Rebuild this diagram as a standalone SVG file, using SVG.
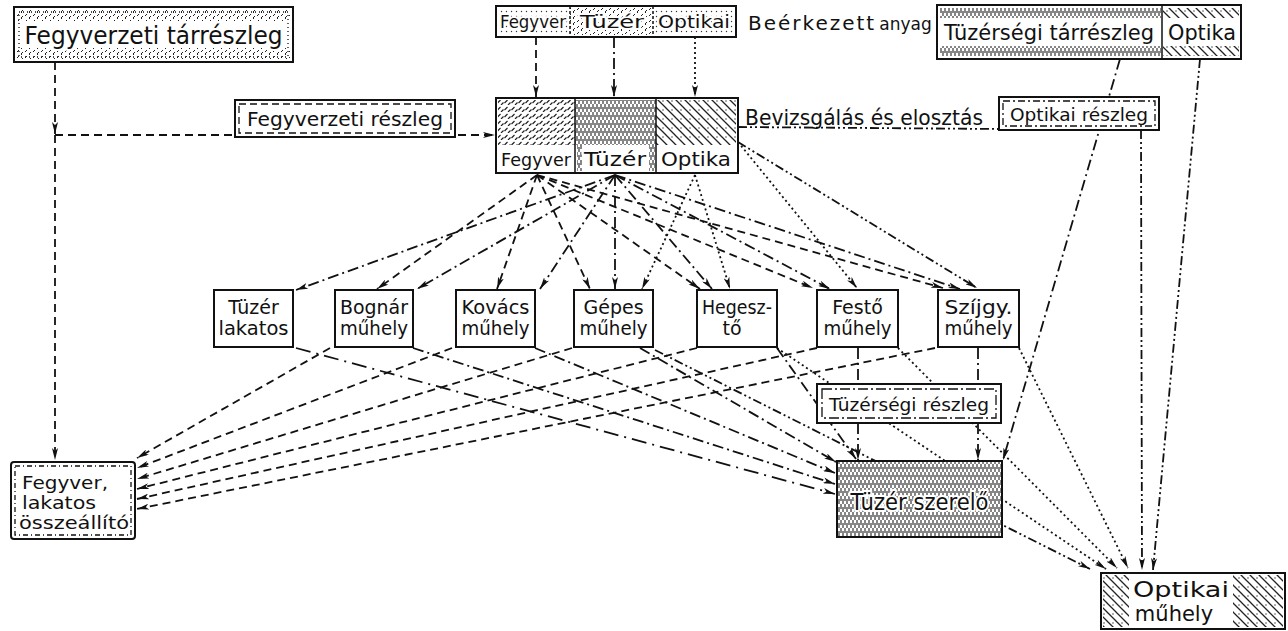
<svg xmlns="http://www.w3.org/2000/svg" width="1288" height="631" viewBox="0 0 1288 631">
<style>
.bx{fill:#fff;stroke:#111;stroke-width:2}
.in{fill:none;stroke:#111;stroke-width:1.3}
.t{font-family:"DejaVu Sans","Liberation Sans",sans-serif;fill:#111}
.h{paint-order:stroke;stroke:#fff;stroke-width:4;stroke-linejoin:round}
.w{font-size:19px;text-anchor:middle}
#connectors line,#connectors path{fill:none;stroke:#111;stroke-width:1.8;marker-end:url(#ah)}
#connectors .na{marker-end:none}
.d{stroke-dasharray:8 5}
.dd{stroke-dasharray:11 4 2 4}
.o{stroke-dasharray:2 3}
.odd{stroke-dasharray:9 3 2 3 2 3}
.ld{stroke-dasharray:15 6 2 6}
</style>
<defs>
<marker id="ah" viewBox="0 0 12 6" refX="12" refY="3" markerWidth="12" markerHeight="6" markerUnits="userSpaceOnUse" orient="auto">
<path d="M0,0 L12,3 L0,6 L3,3 z" fill="#111"/>
</marker>
<pattern id="pStip" width="8" height="6" patternUnits="userSpaceOnUse">
<path d="M1,4 l2,-2 M5,6 l2,-2 M5,1 l1,-1" stroke="#222" stroke-width="1"/>
</pattern>
<pattern id="pDots" width="5" height="5" patternUnits="userSpaceOnUse">
<circle cx="1.5" cy="1.5" r="0.7" fill="#333"/>
</pattern>
<pattern id="pVert" width="4" height="8" patternUnits="userSpaceOnUse">
<path d="M1,0 v5 M3,3 v5" stroke="#222" stroke-width="1.1"/>
</pattern>
<pattern id="pDiag" width="9" height="9" patternUnits="userSpaceOnUse">
<path d="M0,0 L9,9 M-1,8 L1,10 M8,-1 L10,1" stroke="#222" stroke-width="1.3"/>
<circle cx="6" cy="2" r="0.7" fill="#222"/>
</pattern>
<pattern id="pDash" width="7" height="7" patternUnits="userSpaceOnUse">
<path d="M0.5,5 l3,-3 M4,7 l2.5,-2.5" stroke="#222" stroke-width="1.2"/>
</pattern>
</defs>
<rect width="1288" height="631" fill="#fff"/>

<g id="connectors">
<!-- top arrivals -->
<line class="d" x1="536" y1="37" x2="536" y2="97"/>
<line class="dd" x1="614" y1="37" x2="614" y2="97"/>
<line class="o" x1="695" y1="37" x2="695" y2="97"/>
<line class="d" x1="55" y1="62" x2="55" y2="134"/>
<line class="d" x1="55" y1="135" x2="495" y2="135"/>
<line class="d" x1="55" y1="135" x2="55" y2="460"/>
<line class="odd na" x1="738" y1="127" x2="999" y2="129"/>
<line class="dd" x1="1120" y1="59" x2="1003" y2="460"/>
<line class="odd" x1="1141" y1="130" x2="1142" y2="570"/>
<line class="odd" x1="1200" y1="59" x2="1153" y2="570"/>
<!-- fan from Fegyver -->
<line class="d" x1="537" y1="175" x2="377" y2="289"/>
<line class="d" x1="537" y1="175" x2="497" y2="289"/>
<line class="d" x1="537" y1="175" x2="590" y2="289"/>
<line class="d" x1="537" y1="175" x2="700" y2="289"/>
<line class="d" x1="537" y1="175" x2="813" y2="288"/>
<line class="d" x1="537" y1="175" x2="943" y2="288"/>
<!-- fan from Tüzér -->
<line class="dd" x1="615" y1="175" x2="296" y2="290"/>
<line class="dd" x1="615" y1="175" x2="417" y2="289"/>
<line class="dd" x1="615" y1="175" x2="540" y2="289"/>
<line class="dd" x1="615" y1="175" x2="615" y2="289"/>
<line class="dd" x1="615" y1="175" x2="712" y2="289"/>
<line class="dd" x1="615" y1="175" x2="830" y2="289"/>
<line class="dd" x1="615" y1="175" x2="960" y2="289"/>
<!-- fan from Optika -->
<line class="o" x1="695" y1="175" x2="642" y2="289"/>
<line class="o" x1="695" y1="175" x2="730" y2="289"/>
<line class="o" x1="738" y1="142" x2="857" y2="288"/>
<line class="odd" x1="738" y1="142" x2="977" y2="288"/>
<!-- to Fegyver, lakatos összeállító -->
<line class="d" x1="330" y1="348" x2="137" y2="458"/>
<line class="d" x1="452" y1="348" x2="137" y2="468"/>
<line class="d" x1="572" y1="348" x2="137" y2="479"/>
<line class="d" x1="697" y1="348" x2="137" y2="489"/>
<line class="d" x1="817" y1="348" x2="137" y2="499"/>
<line class="d" x1="935" y1="348" x2="137" y2="509"/>
<!-- to Tüzér szerelő -->
<line class="ld" x1="296" y1="348" x2="835" y2="494"/>
<line class="dd" x1="413" y1="348" x2="835" y2="484"/>
<line class="dd" x1="535" y1="348" x2="835" y2="473"/>
<line class="dd" x1="640" y1="348" x2="836" y2="462"/>
<line class="dd" x1="777" y1="348" x2="856" y2="459"/>
<line class="dd na" x1="858" y1="348" x2="858" y2="384"/>
<line class="dd" x1="858" y1="423" x2="858" y2="460"/>
<line class="dd na" x1="978" y1="348" x2="978" y2="384"/>
<line class="dd" x1="978" y1="423" x2="978" y2="460"/>
<!-- to Optikai műhely -->
<line class="odd" x1="655" y1="350" x2="1090" y2="569"/>
<line class="o" x1="777" y1="348" x2="1106" y2="569"/>
<line class="o" x1="898" y1="348" x2="1117" y2="568"/>
<line class="o" x1="1019" y1="348" x2="1128" y2="568"/>
</g>

<g id="fegyverzeti-tarreszleg">
<rect class="bx" x="14" y="7" width="279" height="55"/>
<rect x="17" y="10" width="273" height="11" fill="url(#pStip)"/>
<rect x="17" y="48" width="273" height="11" fill="url(#pStip)"/>
<rect class="in" x="19" y="12" width="269" height="45" stroke-dasharray="1 3"/>
<text class="t h" x="153.5" y="44" font-size="24" text-anchor="middle" textLength="258" lengthAdjust="spacingAndGlyphs">Fegyverzeti tárrészleg</text>
</g>

<g id="beerkezett">
<rect class="bx" x="496" y="6" width="240" height="31"/>
<rect x="498" y="8" width="72" height="27" fill="url(#pDots)"/>
<rect x="570" y="8" width="83" height="27" fill="url(#pStip)"/>
<rect x="653" y="8" width="81" height="27" fill="url(#pDots)"/>
<line x1="570" y1="6" x2="570" y2="37" stroke="#111" stroke-width="1.5" stroke-dasharray="3 2"/>
<line x1="653" y1="6" x2="653" y2="37" stroke="#111" stroke-width="1.5" stroke-dasharray="3 2"/>
<text class="t h" x="533" y="28" font-size="18" text-anchor="middle" textLength="66" lengthAdjust="spacingAndGlyphs">Fegyver</text>
<text class="t h" x="612" y="28" font-size="18" text-anchor="middle" textLength="64" lengthAdjust="spacingAndGlyphs">Tüzér</text>
<text class="t h" x="694" y="28" font-size="18" text-anchor="middle" textLength="72" lengthAdjust="spacingAndGlyphs">Optikai</text>
<text class="t" x="748" y="30" font-size="20"><tspan letter-spacing="2">Beérkezett</tspan><tspan font-size="17" dx="3">anyag</tspan></text>
</g>

<g id="tuzersegi-tarreszleg">
<rect class="bx" x="937" y="5" width="304" height="54"/>
<rect x="940" y="8" width="221" height="10" fill="url(#pVert)"/>
<rect x="940" y="46" width="221" height="10" fill="url(#pVert)"/>
<rect x="1163" y="8" width="76" height="10" fill="url(#pDiag)"/>
<rect x="1163" y="46" width="76" height="10" fill="url(#pDiag)"/>
<line x1="1162" y1="5" x2="1162" y2="59" stroke="#111" stroke-width="1.5"/>
<text class="t h" x="1049" y="40" font-size="22" text-anchor="middle" textLength="210" lengthAdjust="spacingAndGlyphs">Tüzérségi tárrészleg</text>
<text class="t h" x="1202" y="40" font-size="22" text-anchor="middle" textLength="68" lengthAdjust="spacingAndGlyphs">Optika</text>
</g>

<g id="fegyverzeti-reszleg">
<rect class="bx" x="235" y="100" width="220" height="37"/>
<rect class="in" x="239" y="104" width="212" height="29" stroke-dasharray="7 4"/>
<text class="t" x="345" y="126" font-size="20" text-anchor="middle" textLength="196" lengthAdjust="spacingAndGlyphs">Fegyverzeti részleg</text>
</g>

<g id="bevizsgalas">
<rect class="bx" x="496" y="98" width="242" height="75"/>
<rect x="498" y="100" width="77" height="45" fill="url(#pDash)"/>
<rect x="575" y="100" width="81" height="45" fill="url(#pVert)"/>
<rect x="656" y="100" width="80" height="45" fill="url(#pDiag)"/>
<rect x="577" y="145" width="5" height="26" fill="url(#pVert)"/>
<rect x="649" y="145" width="6" height="26" fill="url(#pVert)"/>
<line x1="575" y1="98" x2="575" y2="173" stroke="#111" stroke-width="1.5"/>
<line x1="656" y1="98" x2="656" y2="173" stroke="#111" stroke-width="1.5"/>
<text class="t h" x="536" y="166" font-size="18" text-anchor="middle" textLength="70" lengthAdjust="spacingAndGlyphs">Fegyver</text>
<text class="t h" x="615" y="166" font-size="19" text-anchor="middle" textLength="62" lengthAdjust="spacingAndGlyphs">Tüzér</text>
<text class="t h" x="696" y="166" font-size="19" text-anchor="middle" textLength="70" lengthAdjust="spacingAndGlyphs">Optika</text>
<text class="t" x="745" y="125" font-size="21" textLength="238" lengthAdjust="spacingAndGlyphs">Bevizsgálás és elosztás</text>
</g>

<g id="optikai-reszleg">
<rect class="bx" x="999" y="97" width="160" height="33"/>
<rect class="in" x="1003" y="101" width="152" height="25" stroke-dasharray="7 3 2 3"/>
<text class="t" x="1079" y="121" font-size="18" text-anchor="middle" textLength="138" lengthAdjust="spacingAndGlyphs">Optikai részleg</text>
</g>

<g id="tuzer-lakatos">
<rect class="bx" x="214" y="290" width="79" height="57"/>
<text class="t w" x="253.5" y="314">Tüzér</text>
<text class="t w" x="253.5" y="335" textLength="70" lengthAdjust="spacingAndGlyphs">lakatos</text>
</g>
<g id="bognar">
<rect class="bx" x="335" y="290" width="78" height="57"/>
<text class="t w" x="374" y="314" textLength="68" lengthAdjust="spacingAndGlyphs">Bognár</text>
<text class="t w" x="374" y="335" textLength="68" lengthAdjust="spacingAndGlyphs">műhely</text>
</g>
<g id="kovacs">
<rect class="bx" x="456" y="290" width="79" height="57"/>
<text class="t w" x="495.5" y="314" textLength="68" lengthAdjust="spacingAndGlyphs">Kovács</text>
<text class="t w" x="495.5" y="335" textLength="68" lengthAdjust="spacingAndGlyphs">műhely</text>
</g>
<g id="gepes">
<rect class="bx" x="574" y="290" width="79" height="57"/>
<text class="t w" x="613.5" y="314">Gépes</text>
<text class="t w" x="613.5" y="335" textLength="68" lengthAdjust="spacingAndGlyphs">műhely</text>
</g>
<g id="hegeszto">
<rect class="bx" x="697" y="290" width="80" height="57"/>
<text class="t w" x="737" y="314" textLength="70" lengthAdjust="spacingAndGlyphs">Hegesz-</text>
<text class="t w" x="732" y="335">tő</text>
</g>
<g id="festo">
<rect class="bx" x="817" y="290" width="81" height="57"/>
<text class="t w" x="857.5" y="314">Festő</text>
<text class="t w" x="857.5" y="335" textLength="68" lengthAdjust="spacingAndGlyphs">műhely</text>
</g>
<g id="szijgy">
<rect class="bx" x="938" y="290" width="81" height="57"/>
<text class="t w" x="978.5" y="314" textLength="68" lengthAdjust="spacingAndGlyphs">Szíjgy.</text>
<text class="t w" x="978.5" y="335" textLength="68" lengthAdjust="spacingAndGlyphs">műhely</text>
</g>

<g id="tuzersegi-reszleg">
<rect class="bx" x="817" y="384" width="184" height="39"/>
<rect class="in" x="822" y="389" width="174" height="29" stroke-dasharray="10 3 2 3"/>
<text class="t" x="909" y="411" font-size="18" text-anchor="middle" textLength="160" lengthAdjust="spacingAndGlyphs">Tüzérségi részleg</text>
</g>

<g id="fegyver-lakatos">
<rect class="bx" x="11" y="462" width="124" height="77" rx="3"/>
<rect class="in" x="15" y="466" width="116" height="69" stroke-dasharray="5 3 1 3"/>
<text class="t" x="22" y="489" font-size="17" textLength="86" lengthAdjust="spacingAndGlyphs">Fegyver,</text>
<text class="t" x="22" y="509" font-size="17" textLength="74" lengthAdjust="spacingAndGlyphs">lakatos</text>
<text class="t" x="19" y="529" font-size="17" textLength="110" lengthAdjust="spacingAndGlyphs">összeállító</text>
</g>

<g id="tuzer-szerelo">
<rect x="837" y="461" width="165" height="76" fill="#fff"/>
<rect x="837" y="461" width="165" height="76" fill="url(#pVert)" stroke="#111" stroke-width="2"/>
<text class="t h" x="919.5" y="510" font-size="23" text-anchor="middle" textLength="138" lengthAdjust="spacingAndGlyphs">Tüzér szerelő</text>
</g>

<g id="optikai-muhely">
<rect class="bx" x="1101" y="573" width="184" height="56"/>
<rect x="1103" y="575" width="26" height="52" fill="url(#pDiag)"/>
<rect x="1233" y="575" width="50" height="52" fill="url(#pDiag)"/>
<text class="t" x="1181" y="597" font-size="21" text-anchor="middle" textLength="96" lengthAdjust="spacingAndGlyphs">Optikai</text>
<text class="t" x="1174" y="621" font-size="21" text-anchor="middle">műhely</text>
</g>
</svg>
